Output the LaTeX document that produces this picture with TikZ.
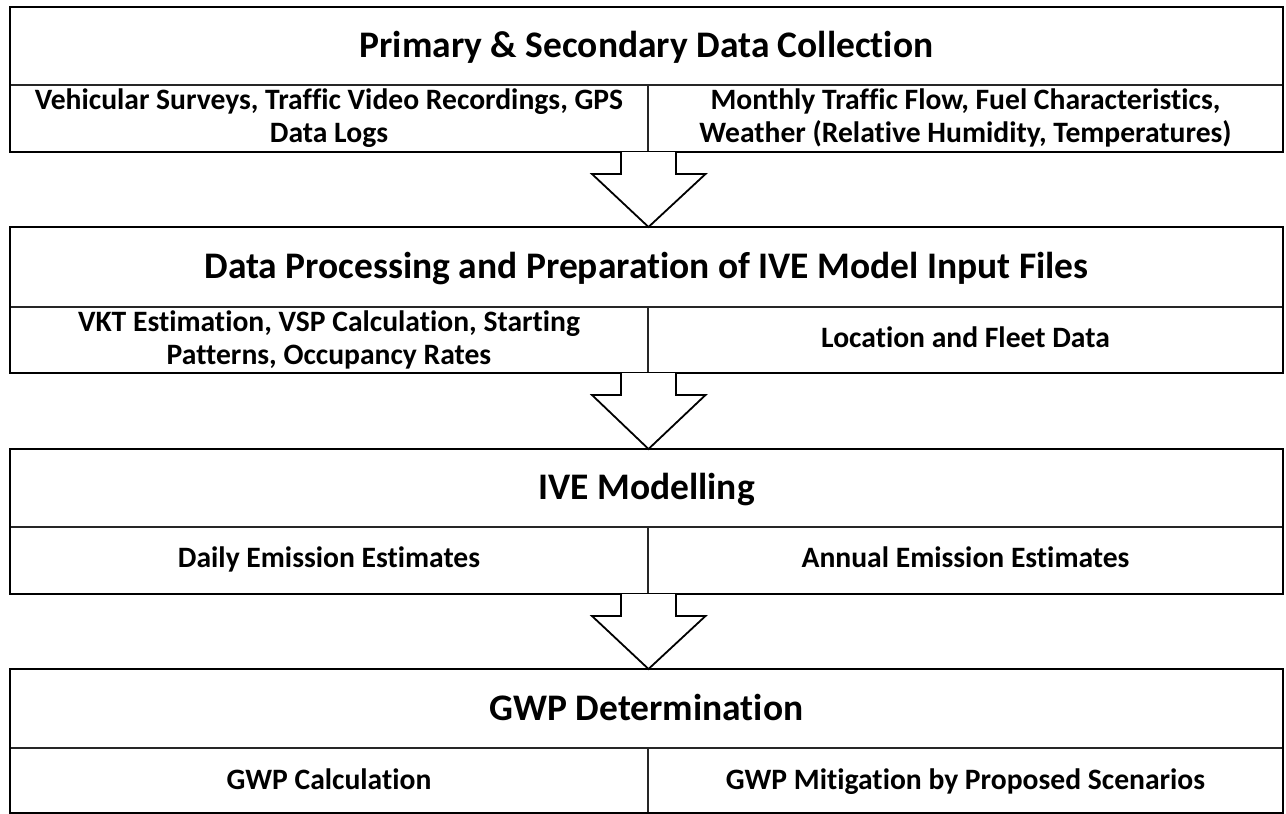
\documentclass[tikz,border=0pt]{standalone}
\usepackage{fontspec}
\setmainfont{Carlito}[Ligatures=NoCommon]
\begin{document}
\begin{tikzpicture}[x=1pt,y=-1pt,
  frame/.style={draw=black,line width=2.6pt},
  rule/.style={draw=black!85,line width=2pt},
  blockarrow/.style={draw=black,line width=1.8pt,fill=white,line join=miter},
  title/.style={font=\fontsize{37.5}{45}\selectfont\bfseries,align=center,inner sep=0pt},
  cell/.style={font=\fontsize{29.6}{33}\selectfont\bfseries,align=center,inner sep=0pt}]
\useasboundingbox (0,0) rectangle (1286,814);

% stage frames: top-left corner, title rule, bottom
\foreach \n/\t/\m/\b in {1/7/85/152, 2/227/307/373, 3/449/527/594, 4/669/748/813.5}{
  \coordinate (f\n nw) at (10,\t);
  \coordinate (f\n se) at (1283,\b);
  \coordinate (f\n n) at (648.5,\t);
  \coordinate (f\n s) at (648.5,\b);
  \draw[rule] (10,\m) -- (1283,\m);
  \draw[rule] (648,\m) -- (648,\b);
  \draw[frame] (f\n nw) rectangle (f\n se);
}

% titles
\node[title] (t1) at (646.5,48) {Primary \& Secondary Data Collection\strut};
\node[title] (t2) at (646.5,269) {Data Processing and Preparation of IVE Model Input Files\strut};
\node[title] (t3) at (646.5,490) {IVE Modelling\strut};
\node[title] (t4) at (646.5,711) {GWP Determination\strut};

% detail cells
\node[cell] (c1l) at (329,119.5) {Vehicular Surveys, Traffic Video Recordings, GPS\strut\\Data Logs\strut};
\node[cell] (c1r) at (965.5,119.5) {Monthly Traffic Flow, Fuel Characteristics,\strut\\Weather (Relative Humidity, Temperatures)\strut};
\node[cell] (c2l) at (329,341) {VKT Estimation, VSP Calculation, Starting\strut\\Patterns, Occupancy Rates\strut};
\node[cell] (c2r) at (965.5,341) {Location and Fleet Data\strut};
\node[cell] (c3l) at (329,561) {Daily Emission Estimates\strut};
\node[cell] (c3r) at (965.5,561) {Annual Emission Estimates\strut};
\node[cell] (c4l) at (329,783) {GWP Calculation\strut};
\node[cell] (c4r) at (965.5,783) {GWP Mitigation by Proposed Scenarios\strut};

% hollow block arrows between stages
\foreach \a/\b in {1/2, 2/3, 3/4}{
  \draw[blockarrow] ([xshift=-27.5pt]f\a s) -- ++(0,22) -- ++(-29,0)
    -- (f\b n) -- ([xshift=57pt,yshift=-22pt]f\a s) -- ++(-29.5,0) -- ([xshift=27.5pt]f\a s);
}
\end{tikzpicture}
\end{document}
